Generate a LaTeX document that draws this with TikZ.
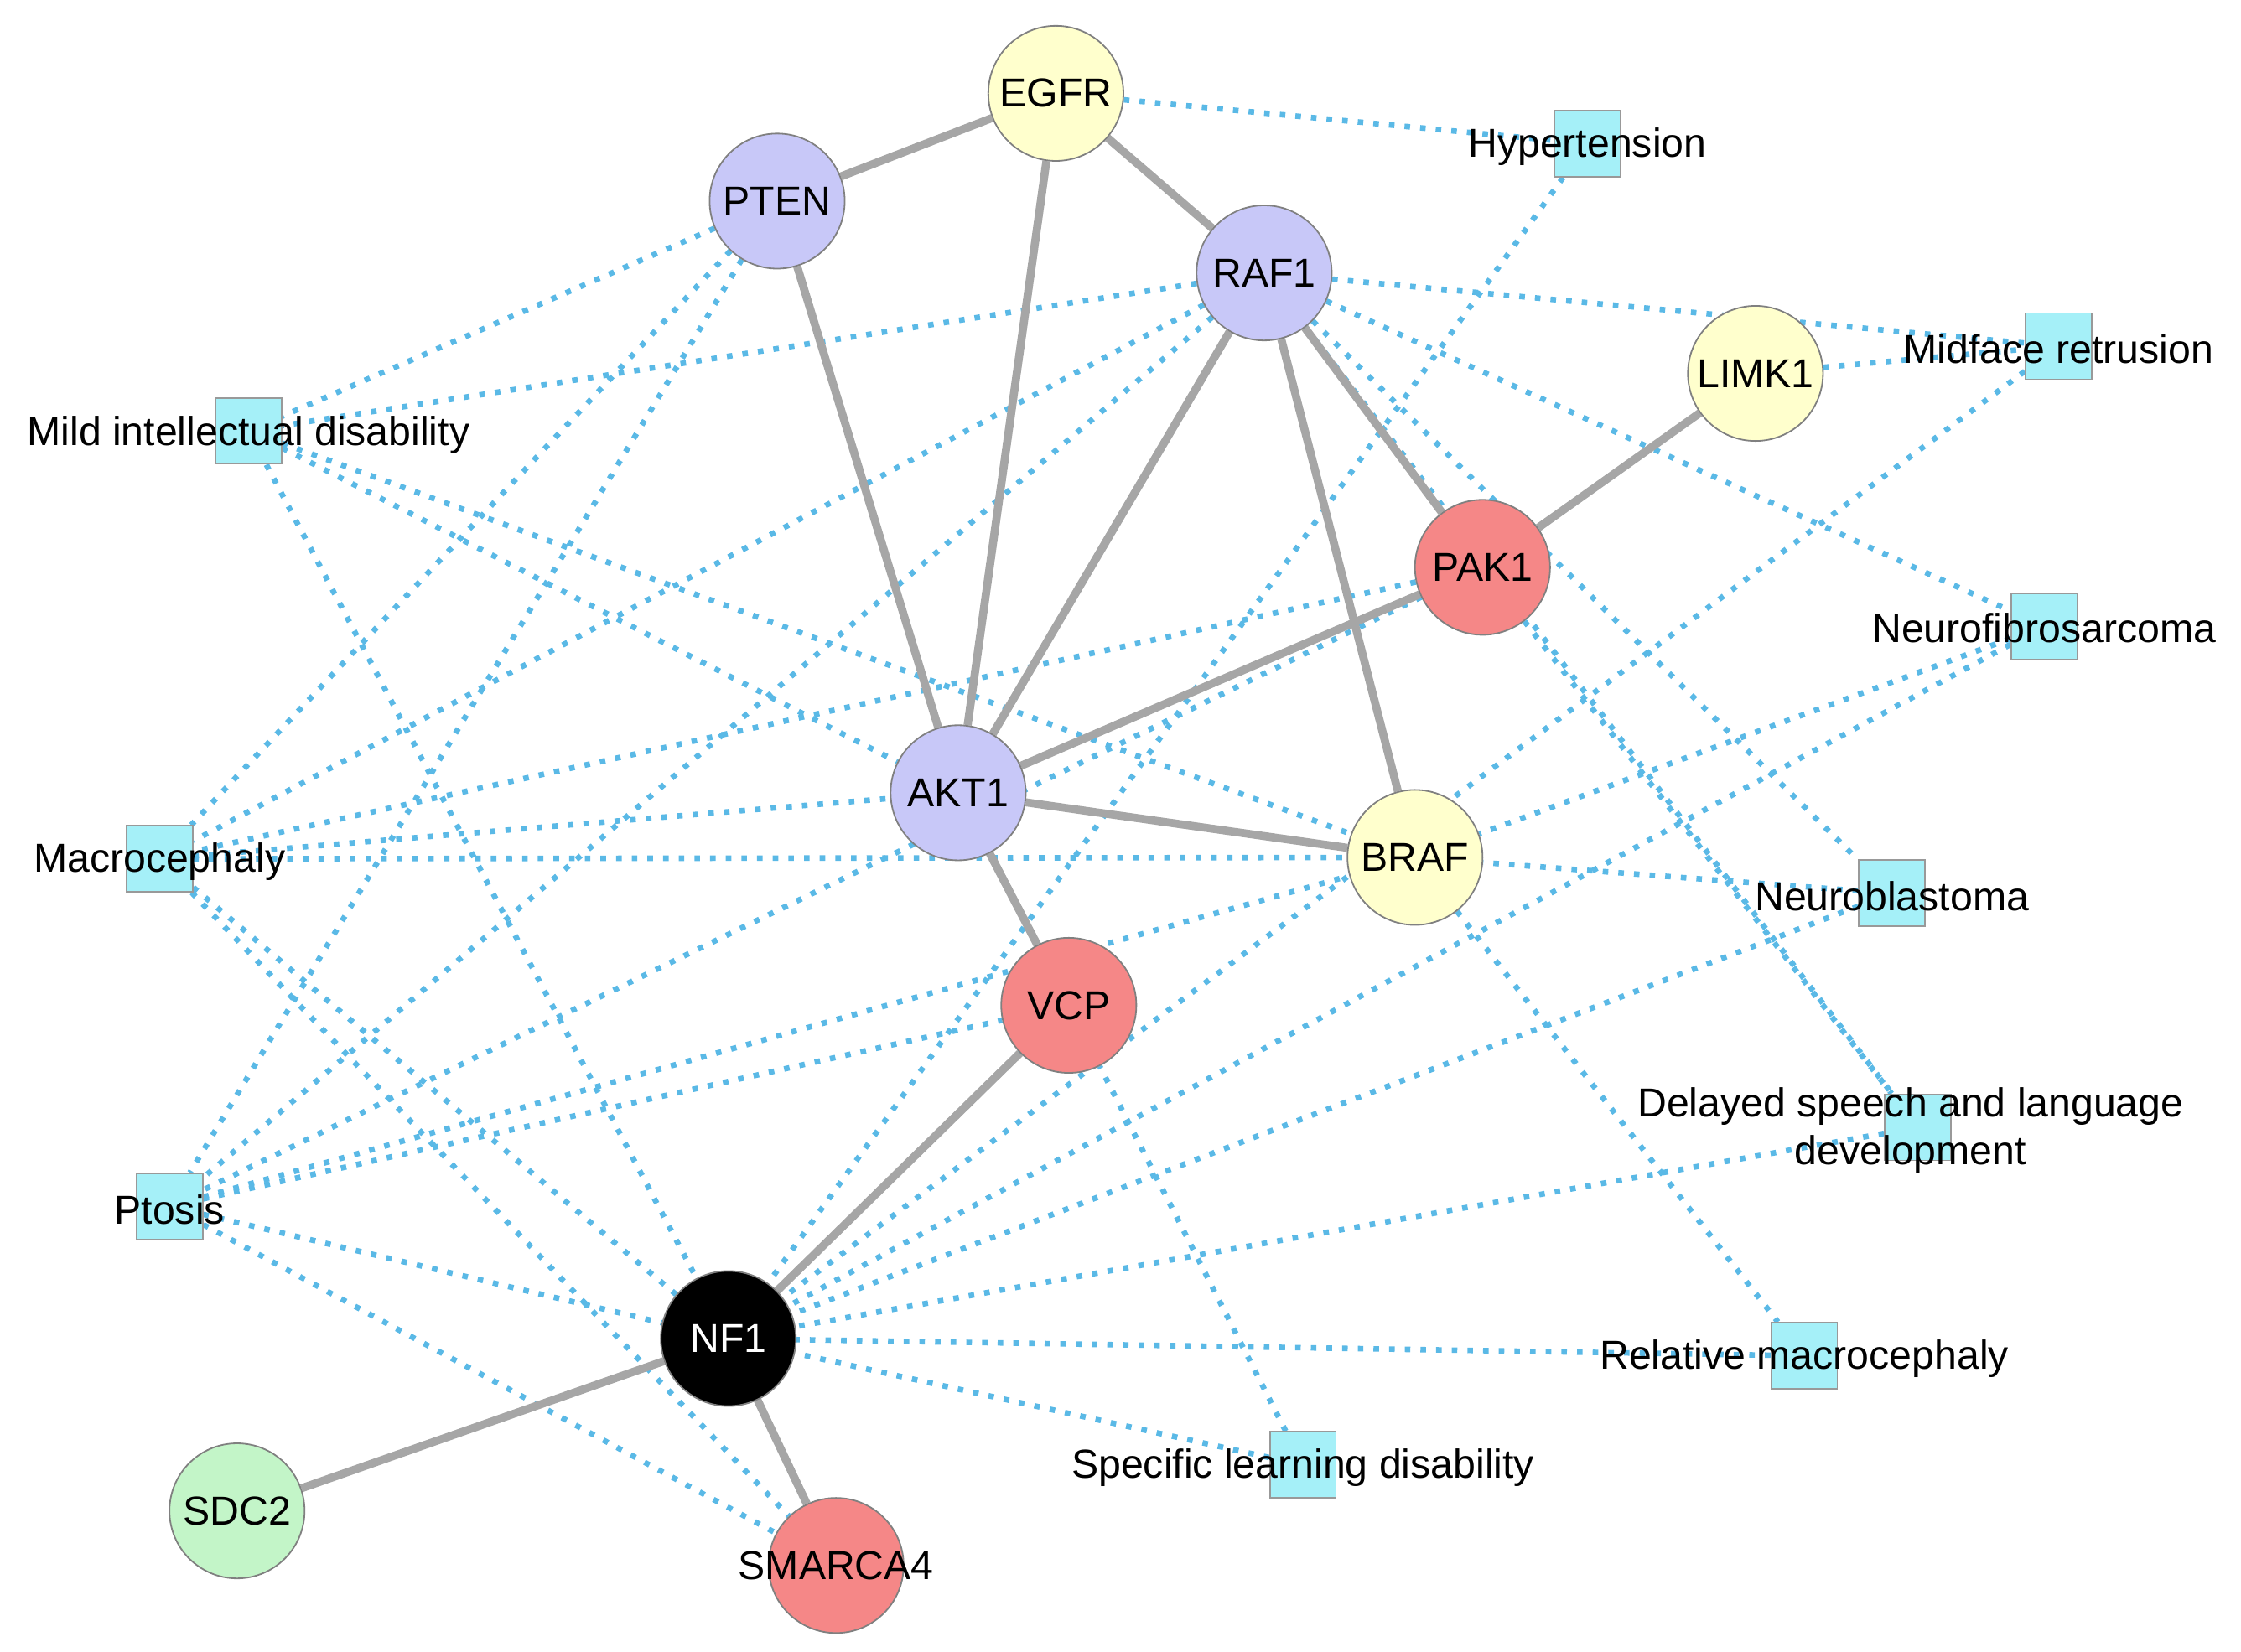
\documentclass[tikz,border=0pt]{standalone}
\usepackage{fontspec}
\setmainfont{Liberation Sans}
\begin{document}
\pgfdeclarelayer{bg}\pgfsetlayers{bg,main}
\begin{tikzpicture}[x=0.01cm,y=-0.01cm,
 gene/.style={circle,draw=black!50,line width=0.3pt,minimum size=0.94cm,inner sep=0pt,font=\fontsize{8}{9}\selectfont},
 lav/.style={gene,fill={rgb,255:red,200;green,200;blue,248}},
 yel/.style={gene,fill={rgb,255:red,255;green,255;blue,205}},
 red/.style={gene,fill={rgb,255:red,245;green,135;blue,135}},
 grn/.style={gene,fill={rgb,255:red,195;green,245;blue,200}},
 blk/.style={gene,fill=black,text=white},
 dis/.style={rectangle,draw=black!40,line width=0.3pt,fill={rgb,255:red,165;green,240;blue,248},minimum size=0.46cm,inner sep=0pt},
 lab/.style={font=\fontsize{8}{9.5}\selectfont,align=center,inner sep=0pt},
 pp/.style={draw=black!35,line width=1.6pt},
 dd/.style={draw={rgb,255:red,90;green,185;blue,230},line width=1.1pt,dotted}]
\useasboundingbox (0,0) rectangle (1560,1150);
% disease squares
\node[dis] (hyp) at (1105,100) {};
\node[dis] (mid) at (1433,241) {};
\node[dis] (mild) at (173,300) {};
\node[dis] (nfs) at (1423,436) {};
\node[dis] (mac) at (111,598) {};
\node[dis] (nbl) at (1317,622) {};
\node[dis] (del) at (1335,785) {};
\node[dis] (pto) at (118,840) {};
\node[dis] (rel) at (1256,944) {};
\node[dis] (spe) at (907,1020) {};
% genes
\node[yel] (egfr) at (735,65) {EGFR};
\node[lav] (pten) at (541,140) {PTEN};
\node[lav] (raf1) at (880,190) {RAF1};
\node[yel] (limk1) at (1222,260) {LIMK1};
\node[red] (pak1) at (1032,395) {PAK1};
\node[lav] (akt1) at (667,552) {AKT1};
\node[yel] (braf) at (985,597) {BRAF};
\node[red] (vcp) at (744,700) {VCP};
\node[blk] (nf1) at (507,932) {NF1};
\node[grn] (sdc2) at (165,1052) {SDC2};
\node[red] (sma) at (582,1090) {};
% labels
\node[lab] (lhyp) at (1105,102) {Hypertension};
\node[lab] (lmid) at (1433,243) {Midface retrusion};
\node[lab] (lmild) at (173,303) {Mild intellectual disability};
\node[lab] (lnfs) at (1423,437) {Neurofibrosarcoma};
\node[lab] (lmac) at (111,600) {Macrocephaly};
\node[lab] (lnbl) at (1317,624) {Neuroblastoma};
\node[lab] (ldel) at (1330,787) {Delayed speech and language\\development};
\node[lab] (lpto) at (118,842) {Ptosis};
\node[lab] (lrel) at (1256,946) {Relative macrocephaly};
\node[lab] (lspe) at (907,1022) {Specific learning disability};
\node[lab] (lsma) at (582,1090) {SMARCA4};
\begin{pgfonlayer}{bg}
\foreach \a/\b in {egfr/hyp,hyp/nf1,raf1/mid,raf1/nfs,raf1/mild,raf1/mac,raf1/pto,raf1/del,raf1/nbl,
 pten/mild,pten/mac,pten/pto,mild/braf,mild/akt1,mild/nf1,
 pak1/mac,pak1/pto,pak1/del,braf/rel,mid/nf1,nfs/braf,nfs/nf1,nbl/nf1,nbl/braf,del/nf1,rel/nf1,spe/nf1,spe/vcp,
 mac/akt1,mac/braf,mac/nf1,mac/sma,pto/vcp,pto/braf,pto/nf1,pto/sma,vcp/nf1,limk1/mid}
 \draw[dd] (\a) -- (\b);
\foreach \a/\b in {egfr/pten,egfr/raf1,egfr/akt1,pten/akt1,raf1/akt1,raf1/pak1,raf1/braf,limk1/pak1,pak1/akt1,akt1/braf,akt1/vcp,vcp/nf1,nf1/sdc2,nf1/sma}
 \draw[pp] (\a) -- (\b);
\end{pgfonlayer}
\end{tikzpicture}
\end{document}
